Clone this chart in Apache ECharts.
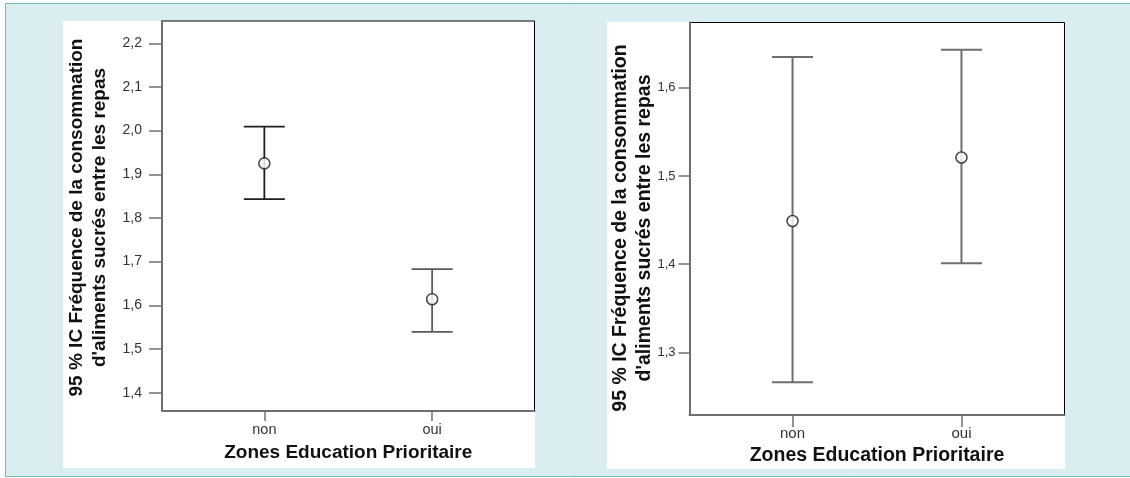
<!DOCTYPE html>
<html>
<head>
<meta charset="utf-8">
<script src="https://cdn.jsdelivr.net/npm/echarts@6/dist/echarts.min.js"></script>
<style>
html,body{margin:0;padding:0;background:#ffffff;}
#chart{width:1130px;height:478px;}
</style>
</head>
<body>
<div id="chart"></div>
<script>
// ---- data ----
var categories = ['non', 'oui'];
var leftMean  = [1.925, 1.614];
var leftLower = [1.843, 1.539];
var leftUpper = [2.009, 1.683];
var rightMean  = [1.449, 1.521];
var rightLower = [1.266, 1.401];
var rightUpper = [1.635, 1.643];
var leftTicks  = [1.4, 1.5, 1.6, 1.7, 1.8, 1.9, 2.0, 2.1, 2.2];
var rightTicks = [1.3, 1.4, 1.5, 1.6];
var yTitle = ['95 % IC Fréquence de la consommation', "d'aliments sucrés entre les repas"];
var xTitle = 'Zones Education Prioritaire';

var FONT = '"Liberation Sans", Arial, Helvetica, sans-serif';
var chart = echarts.init(document.getElementById('chart'));

function fmtComma(v) { return v.toFixed(1).replace('.', ','); }

function barData(lower, upper) {
  return categories.map(function (c, i) { return [i + 1, lower[i], upper[i]]; });
}
function meanData(mean) {
  return categories.map(function (c, i) { return [i + 1, mean[i]]; });
}

function makeRender(colors, width) {
  return function (params, api) {
    var x = api.value(0);
    var lo = api.coord([x, api.value(1)]);
    var hi = api.coord([x, api.value(2)]);
    var hw = 20.5;
    var col = colors[params.dataIndex];
    var st = { stroke: col, lineWidth: width };
    return {
      type: 'group',
      children: [
        { type: 'line', shape: { x1: hi[0], y1: hi[1], x2: lo[0], y2: lo[1] }, style: st },
        { type: 'line', shape: { x1: hi[0] - hw, y1: hi[1], x2: hi[0] + hw, y2: hi[1] }, style: st },
        { type: 'line', shape: { x1: lo[0] - hw, y1: lo[1], x2: lo[0] + hw, y2: lo[1] }, style: st }
      ]
    };
  };
}

function xAxisCfg(idx, labelSize, margin, tickLen, nameSize, nameGap) {
  return {
    type: 'value', gridIndex: idx, min: 0.39, max: 2.61,
    splitLine: { show: false },
    axisLine: { show: true, lineStyle: { color: '#6f6f6f', width: 2 } },
    axisTick: { show: true, inside: false, customValues: [1, 2], length: tickLen, lineStyle: { color: '#6f6f6f', width: 1.5 } },
    axisLabel: {
      customValues: [1, 2], margin: margin, color: '#333', fontFamily: FONT, fontSize: labelSize,
      formatter: function (v) { return categories[Math.round(v) - 1]; }
    },
    name: xTitle, nameLocation: 'middle', nameGap: nameGap,
    nameTextStyle: { fontFamily: FONT, fontWeight: 'bold', fontSize: nameSize, color: '#111' }
  };
}

function yAxisCfg(idx, min, max, ticks, labelSize, margin, tickLen) {
  return {
    type: 'value', gridIndex: idx, min: min, max: max,
    splitLine: { show: false },
    axisLine: { show: true, lineStyle: { color: '#6f6f6f', width: 2 } },
    axisTick: { show: true, inside: false, customValues: ticks, length: tickLen, lineStyle: { color: '#6f6f6f', width: 1.5 } },
    axisLabel: { customValues: ticks, margin: margin, color: '#333', fontFamily: FONT, fontSize: labelSize, formatter: fmtComma }
  };
}

var option = {
  backgroundColor: '#ffffff',
  animation: false,
  graphic: [
    { type: 'rect', z: -10, shape: { x: 5.5, y: 3.5, width: 1130, height: 473 },
      style: { fill: '#daeef1', stroke: '#74b8b8', lineWidth: 1 } },
    { type: 'rect', z: -9, shape: { x: 63, y: 21, width: 472, height: 447 }, style: { fill: '#ffffff' } },
    { type: 'rect', z: -9, shape: { x: 607, y: 22, width: 458, height: 447 }, style: { fill: '#ffffff' } },
    { type: 'text', z: 5, x: 88.5, y: 217.5, rotation: Math.PI / 2,
      style: { text: yTitle.join('\n'), fontFamily: FONT, fontWeight: 'bold', fontSize: 19, lineHeight: 22.6,
               fill: '#111', textAlign: 'center', textVerticalAlign: 'middle' } },
    { type: 'text', z: 5, x: 632.5, y: 228, rotation: Math.PI / 2,
      style: { text: yTitle.join('\n'), fontFamily: FONT, fontWeight: 'bold', fontSize: 19.5, lineHeight: 23.6,
               fill: '#111', textAlign: 'center', textVerticalAlign: 'middle' } }
  ],
  grid: [
    { left: 162, top: 21, width: 372.5, height: 390, show: true, borderColor: '#000', borderWidth: 1, backgroundColor: 'transparent' },
    { left: 689.5, top: 22.5, width: 375, height: 392.5, show: true, borderColor: '#000', borderWidth: 1, backgroundColor: 'transparent' }
  ],
  xAxis: [
    xAxisCfg(0, 14.5, 11, 10, 19, 32),
    xAxisCfg(1, 15, 11, 12, 19.5, 30)
  ],
  yAxis: [
    yAxisCfg(0, 1.358, 2.251, leftTicks, 14, 20, 13),
    yAxisCfg(1, 1.229, 1.674, rightTicks, 13, 14, 11)
  ],
  series: [
    { type: 'custom', xAxisIndex: 0, yAxisIndex: 0, data: barData(leftLower, leftUpper),
      renderItem: makeRender(['#1e1e1e', '#5a5a5a'], 1.8), silent: true },
    { type: 'custom', xAxisIndex: 1, yAxisIndex: 1, data: barData(rightLower, rightUpper),
      renderItem: makeRender(['#6e6e6e', '#6e6e6e'], 2), silent: true },
    { type: 'scatter', xAxisIndex: 0, yAxisIndex: 0, data: meanData(leftMean), z: 5,
      symbol: 'circle', symbolSize: 11,
      itemStyle: { color: '#ffffff', borderColor: '#222', borderWidth: 1.6 } },
    { type: 'scatter', xAxisIndex: 1, yAxisIndex: 1, data: meanData(rightMean), z: 5,
      symbol: 'circle', symbolSize: 11,
      itemStyle: { color: '#ffffff', borderColor: '#222', borderWidth: 1.6 } }
  ]
};
chart.setOption(option);
</script>
</body>
</html>
